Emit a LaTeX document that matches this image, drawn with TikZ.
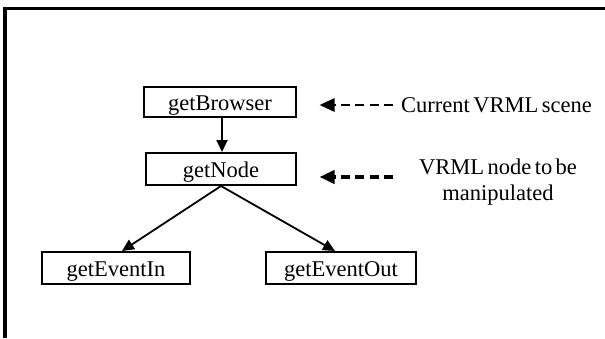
\documentclass[tikz,border=0pt]{standalone}
\usepackage{fontspec}
\setmainfont{Liberation Serif}
\usetikzlibrary{arrows.meta,calc}
\newcommand\mytightsp{\spaceskip=3.5pt plus 1pt minus 1pt\relax}
\begin{document}
\begin{tikzpicture}[x=1pt,y=-1pt,
  fnbox/.style={draw,line width=2pt,minimum height=30pt,inner sep=0pt,text height=17pt,text depth=0pt,font=\fontsize{22.5}{26}\selectfont},
  solidarrow/.style={line width=1.8pt,-{Triangle[length=12pt,width=11pt]}},
  dasharrow/.style={line width=#1,dash pattern=on 9pt off 5.3pt,-{Triangle[length=15pt,width=13pt]}},
  lbl/.style={font=\fontsize{22.5}{26}\selectfont\mytightsp,inner sep=0pt}]
\useasboundingbox (0,0) rectangle (605,338);
\draw[line width=3.3pt] (5,338) -- (5,8.5) -- (605,8.5);
\node[fnbox,minimum width=152pt] (gb) at (220,102) {getBrowser};
\node[fnbox,minimum width=150pt,minimum height=32pt] (gn) at (221,169) {getNode};
\node[fnbox,minimum width=148pt,minimum height=32pt] (ein) at (116,268) {getEventIn};
\node[fnbox,minimum width=150pt,minimum height=32pt] (eout) at (341,268) {getEventOut};
\draw[solidarrow] (gb.south -| 222,0) -- (gn.north -| 222,0);
\draw[solidarrow] (gn.south) -- ([xshift=6pt]ein.north);
\draw[solidarrow] (gn.south) -- ([xshift=-6pt]eout.north);
\node[lbl,anchor=base west] (t1) at (401,112) {Current VRML scene};
\node[lbl,align=center,anchor=north] (t2) at (498,159) {VRML node to be\\manipulated};
\coordinate (a1) at (393,105);
\coordinate (a2) at (393,177);
\draw[dasharrow=2.8pt,shorten >=22.5pt] (a1) -- (a1 -| gb.east);
\draw[dasharrow=4pt,shorten >=22.5pt] (a2) -- (a2 -| gn.east);
\end{tikzpicture}
\end{document}
